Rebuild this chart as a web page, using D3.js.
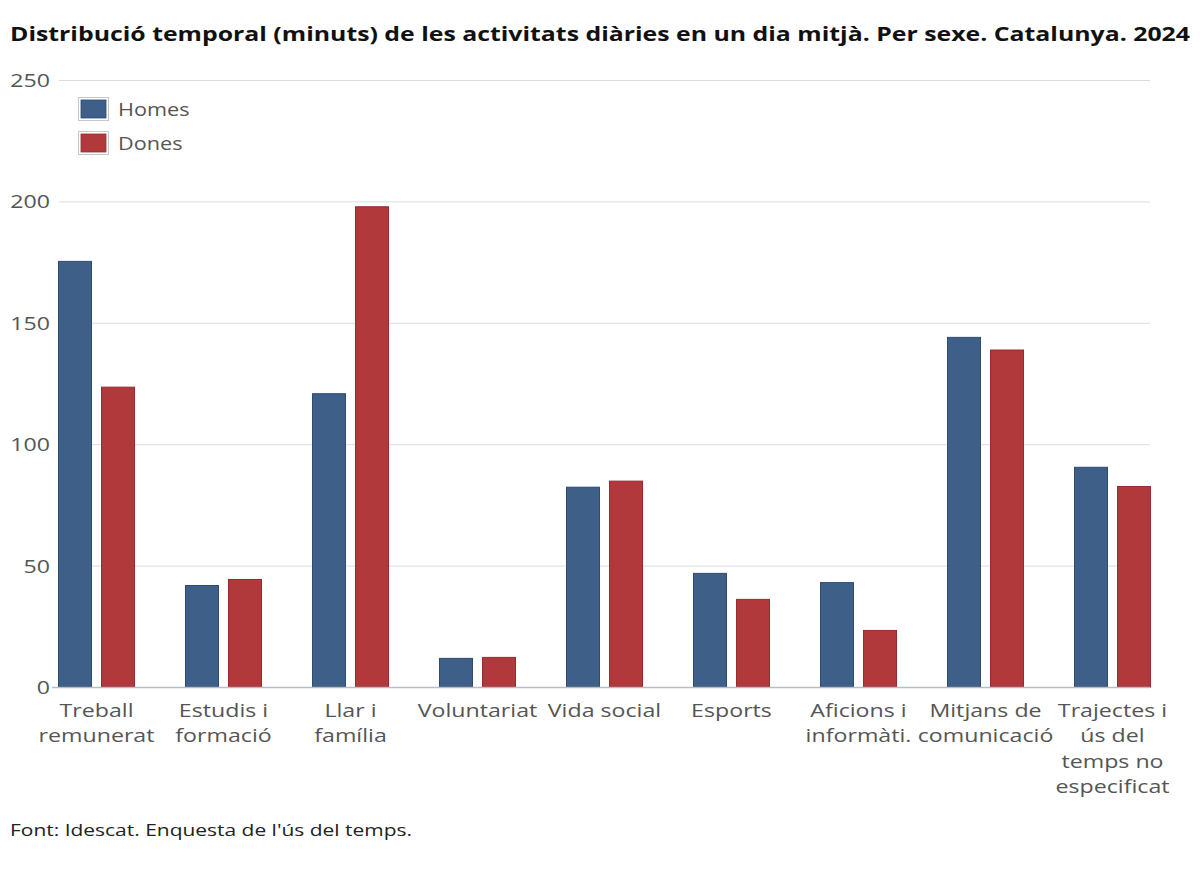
<!DOCTYPE html>
<html>
<head>
<meta charset="utf-8">
<script src="https://cdn.jsdelivr.net/npm/d3@7"></script>
<style>
  body { margin: 0; background: #fff; }
  svg { font-family: "Open Sans", sans-serif; }
  .grid line { stroke: #dcdcdc; }
  .grid .domain { display: none; }
</style>
</head>
<body>
<script>
// categories and series (minuts per dia)
var categories = [
    ["Treball", "remunerat"],
    ["Estudis i", "formació"],
    ["Llar i", "família"],
    ["Voluntariat"],
    ["Vida social"],
    ["Esports"],
    ["Aficions i", "informàti."],
    ["Mitjans de", "comunicació"],
    ["Trajectes i", "ús del", "temps no", "especificat"]
];
var series = ["Homes", "Dones"];
var homes = [175.5, 42, 121, 12, 82.5, 47, 43.2, 144.2, 90.7];
var dones = [123.7, 44.5, 198, 12.4, 85, 36.3, 23.5, 139, 82.8];
var yTicks = [0, 50, 100, 150, 200, 250];
var colors = ["#3d5f88", "#b1393c"];
var strokes = ["#2e4b70", "#962c2f"];

var width = 1200, height = 875;
var plotTop = 80, plotBottom = 687, gridLeft = 59, gridRight = 1150;
var sx = 1.22; // text in the reference is drawn wider than Open Sans

var svg = d3.select("body").append("svg")
    .attr("width", width)
    .attr("height", height);

// title
svg.append("text")
    .attr("x", 10).attr("y", 41)
    .attr("font-size", 20).attr("font-weight", 700)
    .attr("fill", "#111")
    .attr("textLength", 1180)
    .attr("lengthAdjust", "spacingAndGlyphs")
    .text("Distribució temporal (minuts) de les activitats diàries en un dia mitjà. Per sexe. Catalunya. 2024");

var y = d3.scaleLinear().domain([0, 250]).range([plotBottom, plotTop]);

var keys = categories.map(function(c) { return c.join(" "); });
var x0 = d3.scaleBand().domain(keys).range([33, 33 + 127 * 9]);
var x1 = d3.scaleBand().domain(series).range([25, 102]).paddingInner(0.21);

// gridlines
svg.append("g")
    .attr("class", "grid")
    .attr("transform", "translate(" + gridLeft + ",0)")
    .call(d3.axisLeft(y).tickValues(yTicks.slice(1)).tickSize(-(gridRight - gridLeft)).tickFormat(""));

// y axis labels
svg.append("g")
    .selectAll("text")
    .data(yTicks)
    .enter().append("text")
    .attr("transform", function(d) { return "translate(50," + (y(d) + 7) + ") scale(1.25,1)"; })
    .attr("text-anchor", "end")
    .attr("font-size", 18.5)
    .attr("fill", "#555")
    .text(function(d) { return d; });

// bars
var rows = keys.map(function(k, i) { return { key: k, values: [homes[i], dones[i]] }; });

var groups = svg.selectAll(".group")
    .data(rows)
    .enter().append("g")
    .attr("class", "group")
    .attr("transform", function(d) { return "translate(" + x0(d.key) + ",0)"; });

groups.selectAll("rect")
    .data(function(d) { return d.values.map(function(v, j) { return { s: series[j], v: v, j: j }; }); })
    .enter().append("rect")
    .attr("x", function(d) { return x1(d.s) + 0.5; })
    .attr("y", function(d) { return y(d.v) + 0.5; })
    .attr("width", x1.bandwidth() - 1)
    .attr("height", function(d) { return y(0) - y(d.v) - 0.5; })
    .attr("fill", function(d) { return colors[d.j]; })
    .attr("stroke", function(d) { return strokes[d.j]; })
    .attr("stroke-width", 1);

// baseline
svg.append("line")
    .attr("x1", 52).attr("x2", gridRight)
    .attr("y1", y(0) + 0.5).attr("y2", y(0) + 0.5)
    .attr("stroke", "#b8bcc4").attr("stroke-width", 1.5);

// x labels
svg.append("g")
    .selectAll("text")
    .data(categories)
    .enter().append("text")
    .attr("text-anchor", "middle")
    .attr("font-size", 19)
    .attr("fill", "#555")
    .attr("transform", function(d, i) {
        return "translate(" + (x0(keys[i]) + x0.bandwidth() / 2) + ",717) scale(" + sx + ",1)";
    })
    .selectAll("tspan")
    .data(function(d) { return d; })
    .enter().append("tspan")
    .attr("x", 0)
    .attr("dy", function(d, i) { return i === 0 ? 0 : 25.5; })
    .text(function(d) { return d; });

// legend
var legend = svg.append("g").attr("transform", "translate(78,97)");
var li = legend.selectAll("g")
    .data(series)
    .enter().append("g")
    .attr("transform", function(d, i) { return "translate(0," + (i * 34) + ")"; });
li.append("rect")
    .attr("x", 0.5).attr("y", 0.5)
    .attr("width", 30).attr("height", 23)
    .attr("fill", "#fff").attr("stroke", "#c8c8c8");
li.append("rect")
    .attr("x", 3).attr("y", 3)
    .attr("width", 25).attr("height", 18)
    .attr("fill", function(d, i) { return colors[i]; })
    .attr("stroke", function(d, i) { return strokes[i]; })
    .attr("stroke-width", 0.8);
li.append("text")
    .attr("transform", "translate(40,19) scale(1.14,1)")
    .attr("font-size", 19)
    .attr("fill", "#555")
    .text(function(d) { return d; });

// footer
svg.append("text")
    .attr("x", 10).attr("y", 836)
    .attr("font-size", 17)
    .attr("fill", "#222")
    .attr("textLength", 402)
    .attr("lengthAdjust", "spacingAndGlyphs")
    .text("Font: Idescat. Enquesta de l'ús del temps.");
</script>
</body>
</html>
